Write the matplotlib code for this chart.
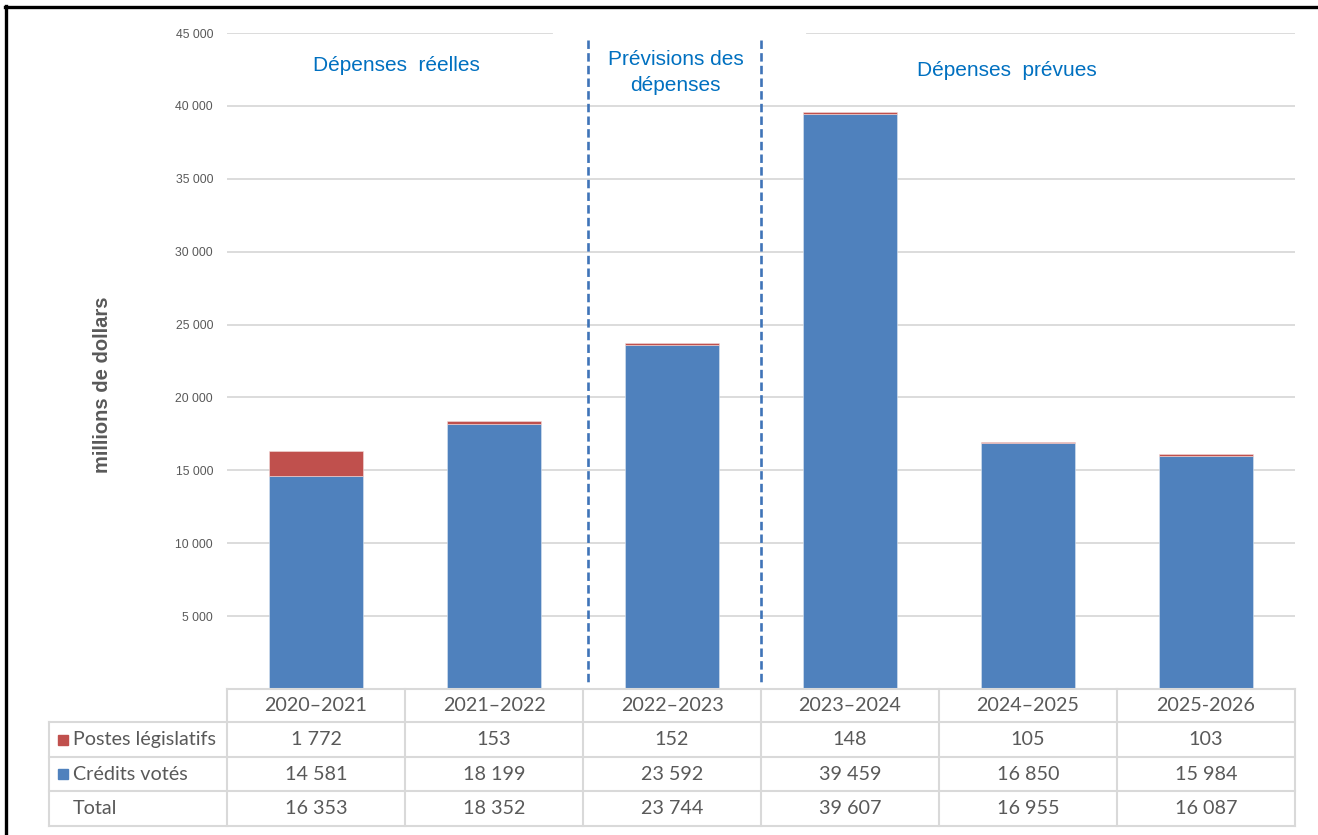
import matplotlib as mpl

mpl.use("Agg")

import matplotlib.pyplot as plt
import matplotlib.transforms as mtransforms
from matplotlib.lines import Line2D
from matplotlib.patches import Rectangle

YEARS = ["2020–2021", "2021–2022", "2022–2023", "2023–2024", "2024–2025", "2025-2026"]
STATUTORY = [1772, 153, 152, 148, 105, 103]
VOTED = [14581, 18199, 23592, 39459, 16850, 15984]
SERIES_NAMES = ["Postes législatifs", "Crédits votés", "Total"]
SECTIONS = ["Dépenses  réelles", "Prévisions des\ndépenses", "Dépenses  prévues"]
YTICKS = [5000, 10000, 15000, 20000, 25000, 30000, 35000, 40000, 45000]

BLUE = "#4f81bd"
RED = "#c0504d"
GREY_TXT = "#595959"
GRID = "#d9d9d9"
HEAD_BLUE = "#0070c0"

W, H = 1318, 835


def fy(py):
    # pixel row -> figure fraction
    return 1 - py / H


def fmt(v):
    return f"{v:,}".replace(",", " ")


mpl.rcParams["font.family"] = ["Lato", "DejaVu Sans"]

fig = plt.figure(figsize=(W / 100, H / 100), dpi=100, facecolor="white")
ax = fig.add_axes([227 / W, fy(689), (1295 - 227) / W, fy(33) - fy(689)])

x = list(range(len(YEARS)))
totals = [a + b for a, b in zip(STATUTORY, VOTED)]

ax.bar(x, VOTED, width=0.525, color=BLUE, edgecolor="#dbe5f1", linewidth=0.4, zorder=3)
ax.bar(x, STATUTORY, width=0.525, bottom=VOTED, color=RED, edgecolor="#f2dcdb", linewidth=0.4, zorder=3)

ax.set_xlim(-0.5, len(YEARS) - 0.5)
ax.set_ylim(0, 45000)
ax.set_yticks(YTICKS)
ax.set_yticklabels([fmt(v) for v in YTICKS], fontsize=8.8, color=GREY_TXT,
                   family=["Liberation Sans", "DejaVu Sans"])
ax.tick_params(axis="y", length=0, pad=10)
ax.set_xticks([])
for s in ax.spines.values():
    s.set_visible(False)

for v in YTICKS[:-1]:
    ax.axhline(v, color=GRID, lw=1.3, zorder=1)
# top gridline is interrupted behind the middle heading
ax.axhline(45000, xmin=0, xmax=0.304, color=GRID, lw=1.3, zorder=1)
ax.axhline(45000, xmin=0.543, xmax=1, color=GRID, lw=1.3, zorder=1)

for xv in (1.53, 2.5):
    ax.plot([xv, xv], [44500, 500], color="#3f74b8", lw=1.9, ls=(0, (3.2, 1.6)),
            zorder=4, clip_on=False)

head_font = ["Liberation Sans Narrow", "Liberation Sans", "DejaVu Sans"]
ax.text(0.45, 42750, SECTIONS[0], ha="center", va="center", fontsize=15,
        color=HEAD_BLUE, family=head_font)
ax.text(2.02, 42300, SECTIONS[1], ha="center", va="center", fontsize=15,
        color=HEAD_BLUE, family=head_font, linespacing=1.45)
ax.text(3.88, 42450, SECTIONS[2], ha="center", va="center", fontsize=15,
        color=HEAD_BLUE, family=head_font)

fig.text(103 / W, fy(385), "millions de dollars", rotation=90, ha="center", va="center",
         fontsize=14.5, fontweight="bold", color=GREY_TXT, family=["Liberation Sans", "DejaVu Sans"])

# data table under the chart
tr = mtransforms.blended_transform_factory(ax.transData, fig.transFigure)
rows_px = [689, 722, 757, 791, 826]
tbl_kw = dict(color=GRID, lw=1.5, transform=tr, clip_on=False)
fig.add_artist(Line2D([-0.5, 5.5], [fy(rows_px[0])] * 2, **tbl_kw))
for r in rows_px[1:]:
    fig.add_artist(Line2D([-1.5, 5.5], [fy(r)] * 2, **tbl_kw))
for c in range(len(YEARS) + 1):
    fig.add_artist(Line2D([c - 0.5, c - 0.5], [fy(rows_px[0]), fy(rows_px[-1])], **tbl_kw))
fig.add_artist(Line2D([-1.5, -1.5], [fy(rows_px[1]), fy(rows_px[-1])], **tbl_kw))

tfs = 14.2
row_mid = [(rows_px[i] + rows_px[i + 1]) / 2 for i in range(4)]
for i, yr in enumerate(YEARS):
    fig.text(i, fy(row_mid[0]), yr, transform=tr, ha="center", va="center", fontsize=tfs, color=GREY_TXT)
    for j, vals in enumerate([STATUTORY, VOTED, totals]):
        fig.text(i, fy(row_mid[j + 1]), fmt(vals[i]), transform=tr, ha="center", va="center",
                 fontsize=tfs, color=GREY_TXT)

sq = 10
for j, (name, col) in enumerate(zip(SERIES_NAMES, [RED, BLUE, None])):
    ym = row_mid[j + 1]
    if col:
        fig.add_artist(Rectangle((58 / W, fy(ym + sq / 2)), sq / W, sq / H, color=col,
                                 transform=fig.transFigure))
    fig.text(73 / W, fy(ym), name, ha="left", va="center", fontsize=tfs, color=GREY_TXT)

# black frame on top and left edges
fig.add_artist(Line2D([5 / W, 1], [fy(7), fy(7)], color="black", lw=2.4, transform=fig.transFigure))
fig.add_artist(Line2D([6 / W, 6 / W], [fy(6), 0], color="black", lw=2.4, transform=fig.transFigure))

fig.savefig("out.png", dpi=100, facecolor="white")
